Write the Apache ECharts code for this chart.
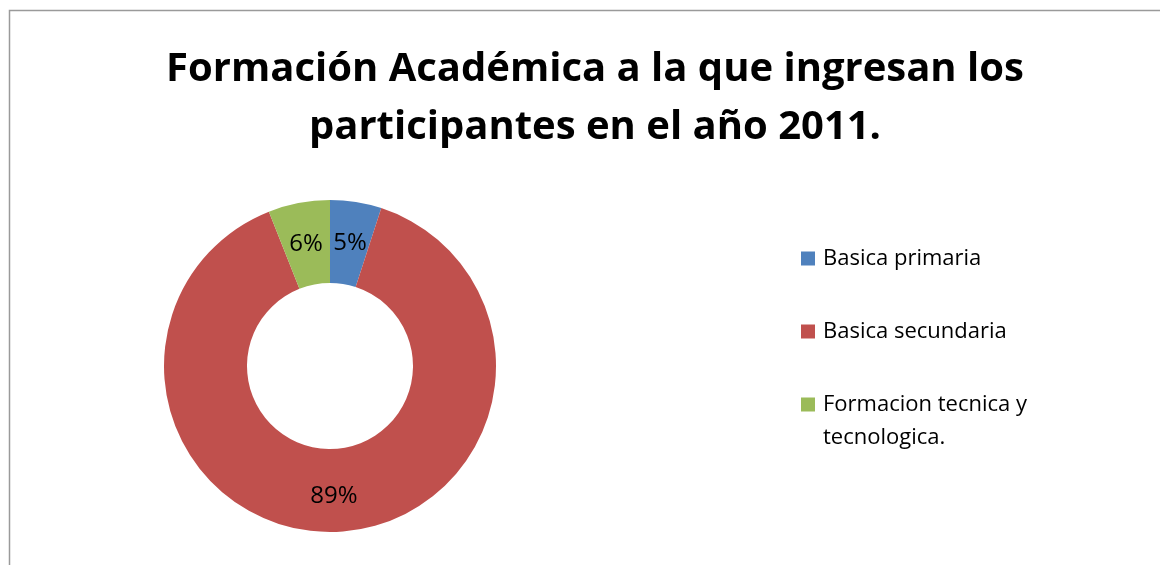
<!DOCTYPE html>
<html>
<head>
<meta charset="utf-8">
<script src="https://cdn.jsdelivr.net/npm/echarts@6/dist/echarts.min.js"></script>
<style>
html,body{margin:0;padding:0;background:#fff;}
#chart{width:1160px;height:565px;}
</style>
</head>
<body>
<div id="chart"></div>
<script>
const categories = ["Basica primaria", "Basica secundaria", "Formacion tecnica y tecnologica."];
const values = [5, 89, 6];
const colors = ["#4F81BD", "#C0504D", "#9BBB59"];
const titleText = "Formación Académica a la que ingresan los\nparticipantes en el año 2011.";

const font = "'Open Sans', sans-serif";
const legendText = {
  fontFamily: font, fontSize: 22, lineHeight: 33, color: '#000',
  rich: {a: {fontFamily: font, fontSize: 22, lineHeight: 33, color: '#000', padding: [0, 0, 0, 3]}}
};
const chart = echarts.init(document.getElementById('chart'));
chart.setOption({
  animation: false,
  backgroundColor: '#fff',
  graphic: [{
    type: 'rect',
    shape: {x: 9.5, y: 10.5, width: 1300, height: 700},
    style: {fill: 'none', stroke: '#9a9a9a', lineWidth: 1.5},
    silent: true
  }],
  title: {
    text: titleText,
    left: 590,
    top: 36,
    textAlign: 'center',
    textStyle: {fontFamily: font, fontWeight: 'bold', fontSize: 40, lineHeight: 58, color: '#000'}
  },
  legend: [{
    orient: 'vertical',
    left: 801,
    top: 242,
    padding: 0,
    itemWidth: 14,
    itemHeight: 14,
    itemGap: 40,
    icon: 'rect',
    textStyle: legendText,
    formatter: name => '{a|' + name + '}',
    data: categories.slice(0, 2)
  }, {
    orient: 'vertical',
    left: 801,
    top: 355,
    padding: 0,
    itemWidth: 14,
    itemHeight: 14,
    icon: 'rect',
    textStyle: legendText,
    formatter: name => '{a| }\n' + name.split(' y ').map((s, i, arr) => '{a|' + s + (i < arr.length - 1 ? ' y' : '') + '}').join('\n'),
    data: categories.slice(2)
  }],
  series: [{
    type: 'pie',
    center: [330, 366],
    radius: [83, 166],
    startAngle: 90,
    clockwise: true,
    avoidLabelOverlap: false,
    data: categories.map((c, i) => ({name: c, value: values[i], itemStyle: {color: colors[i]}})),
    label: {
      position: 'inside',
      offset: [0, 3],
      formatter: p => Math.round(p.percent) + '%',
      fontFamily: font, fontSize: 24, color: '#000'
    },
    labelLine: {show: false},
    emphasis: {disabled: true}
  }]
});
</script>
</body>
</html>
